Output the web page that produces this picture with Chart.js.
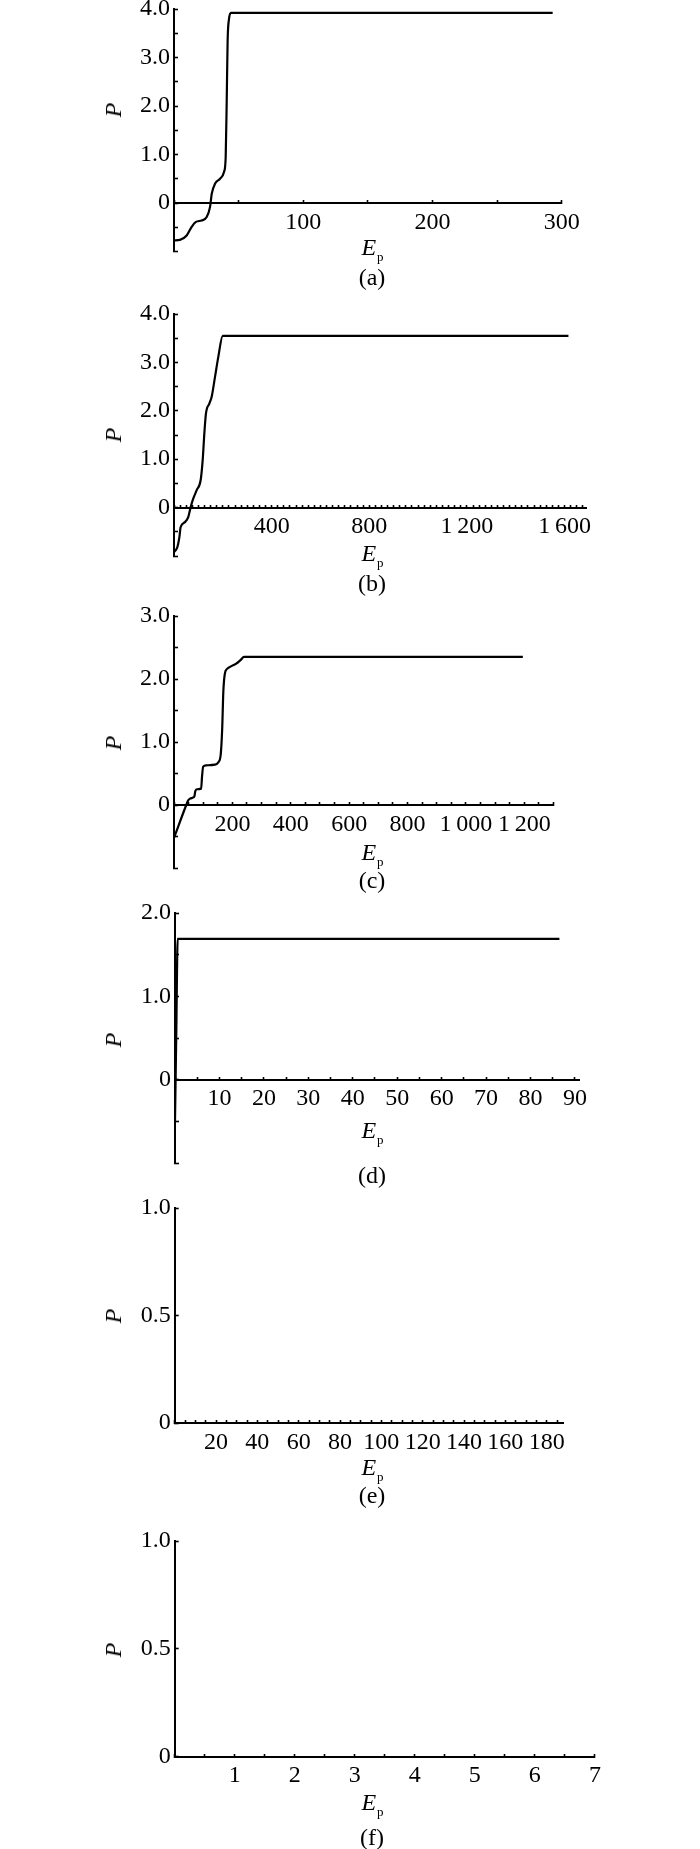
<!DOCTYPE html>
<html>
<head>
<meta charset="utf-8">
<script src="https://cdn.jsdelivr.net/npm/chart.js@4.4.1/dist/chart.umd.min.js"></script>
<style>
  body { margin: 0; background: #fff; }
  #page { position: relative; width: 700px; height: 1849px; overflow: hidden; background: #fff;
          font-family: "Liberation Serif", "DejaVu Serif", serif; color: #000; }
  #page canvas { position: absolute; left: 0; }
  .txt { position: absolute; font-size: 24px; line-height: 1; white-space: nowrap; transform: translate(-50%, -50%); }
  .ylab { font-style: italic; transform: translate(-50%, -50%) rotate(-90deg); }
  .ep i { font-style: italic; }
  .ep .sub { font-size: 13px; position: relative; top: 6px; left: 1px; }
</style>
</head>
<body>
<div id="page"></div>
<script>
// values (E_p on x, P on y)
const epA = [0, 4.6, 9.8, 13.7, 17, 21.4, 25.3, 27.9, 29.2, 31.8, 35.6, 38.7, 40, 40.8, 41.5, 42.6, 44.1, 293];
const pA  = [-0.77, -0.76, -0.67, -0.49, -0.39, -0.36, -0.29, -0.08, 0.19, 0.4, 0.5, 0.64, 0.95, 2.12, 3.35, 3.8, 3.92, 3.92];

const epB = [0, 13.6, 21.8, 27.3, 45, 58.7, 68.3, 79.2, 92.9, 109.3, 117.5, 124.3, 131.1, 144.8, 154.4, 168, 181.7, 199.5, 1616];
const pB  = [-0.92, -0.82, -0.62, -0.4, -0.3, -0.19, 0.01, 0.19, 0.36, 0.57, 0.98, 1.53, 1.95, 2.15, 2.29, 2.7, 3.12, 3.55, 3.55];

const epC = [0, 42, 48, 55, 66, 70, 73, 78, 93, 96, 100, 110, 140, 152, 160, 165, 169, 174, 182, 195, 212, 228, 240, 1195];
const pC  = [-0.52, 0, 0.07, 0.1, 0.12, 0.14, 0.22, 0.25, 0.26, 0.45, 0.61, 0.63, 0.64, 0.68, 0.8, 1.2, 1.8, 2.08, 2.16, 2.2, 2.24, 2.3, 2.35, 2.35];

const epD = [0, 0.3, 0.6, 86.5];
const pD  = [-0.5, 0.6, 1.69, 1.69];

// tick labels shown on each axis
const xLabelsA = [100, 200, 300];
const xLabelsB = [400, 800, 1200, 1600];
const xLabelsC = [200, 400, 600, 800, 1000, 1200];
const xLabelsD = [10, 20, 30, 40, 50, 60, 70, 80, 90];
const xLabelsE = [20, 40, 60, 80, 100, 120, 140, 160, 180];
const xLabelsF = [1, 2, 3, 4, 5, 6, 7];
const yLabelsA = [0, 1, 2, 3, 4];
const yLabelsB = [0, 1, 2, 3, 4];
const yLabelsC = [0, 1, 2, 3];
const yLabelsD = [0, 1, 2];
const yLabelsE = [0, 0.5, 1];
const yLabelsF = [0, 0.5, 1];
const captions = ["(a)", "(b)", "(c)", "(d)", "(e)", "(f)"];

// layout: plot box in page pixels and text positions
const panels = [
  { ep: epA, p: pA, xMax: 300, xStep: 50, xLabels: xLabelsA, yMin: -1, yMax: 4, yLabels: yLabelsA,
    box: { left: 174, right: 561.7, top: 8.7, bottom: 251.2 }, pY: 110, epY: 246.7, capY: 277 },
  { ep: epB, p: pB, xMax: 1690, xStep: 25, xLabels: xLabelsB, yMin: -1, yMax: 4, yLabels: yLabelsB,
    box: { left: 174, right: 586.5, top: 314, bottom: 556 }, pY: 435, epY: 553.3, capY: 583.3 },
  { ep: epC, p: pC, xMax: 1300, xStep: 50, xLabels: xLabelsC, yMin: -1, yMax: 3, yLabels: yLabelsC,
    box: { left: 174, right: 553.5, top: 616, bottom: 868 }, pY: 743, epY: 851.7, capY: 880 },
  { ep: epD, p: pD, xMax: 91, xStep: 5, xLabels: xLabelsD, yMin: -1, yMax: 2, yLabels: yLabelsD,
    box: { left: 175, right: 579.4, top: 913.3, bottom: 1163.3 }, pY: 1040, epY: 1130, capY: 1175 },
  { ep: [], p: [], xMax: 188, xStep: 5, xLabels: xLabelsE, yMin: 0, yMax: 1, yLabels: yLabelsE,
    box: { left: 174.7, right: 563.2, top: 1207.7, bottom: 1422.7 }, pY: 1316, epY: 1466.7, capY: 1495 },
  { ep: [], p: [], xMax: 7, xStep: 0.5, xLabels: xLabelsF, yMin: 0, yMax: 1, yLabels: yLabelsF,
    box: { left: 174.7, right: 594.9, top: 1541, bottom: 1756.7 }, pY: 1650, epY: 1801.7, capY: 1836.7 }
];

const fmtX = v => v >= 1000 ? Math.floor(v / 1000) + "\u2009" + String(v % 1000).padStart(3, "0") : String(v);
const fmtY = v => v === 0 ? "0" : v.toFixed(1);
const near = (arr, v) => arr.some(a => Math.abs(a - v) < 1e-6);

Chart.defaults.font.family = '"Liberation Serif", serif';
Chart.defaults.color = "#000";

const page = document.getElementById("page");

function addText(html, cls, x, y) {
  const d = document.createElement("div");
  d.className = "txt " + cls;
  d.style.left = x + "px";
  d.style.top = y + "px";
  d.innerHTML = html;
  page.appendChild(d);
}

panels.forEach((pn, i) => {
  const b = pn.box;
  const top = b.top - 24;
  const height = Math.round(b.bottom - b.top + 64);
  const cv = document.createElement("canvas");
  cv.width = 700;
  cv.height = height;
  cv.style.top = top + "px";
  page.appendChild(cv);

  const points = pn.ep.map((x, k) => ({ x: x, y: pn.p[k] }));

  new Chart(cv, {
    type: "line",
    data: {
      datasets: [{
        data: points,
        borderColor: "#000",
        borderWidth: 2.2,
        pointRadius: 0,
        fill: false,
        cubicInterpolationMode: "monotone"
      }]
    },
    options: {
      responsive: false,
      animation: false,
      devicePixelRatio: 1,
      layout: {
        padding: { left: 0, top: b.top - top, right: 700 - b.right, bottom: height - (b.bottom - top) }
      },
      plugins: { legend: { display: false }, tooltip: { enabled: false } },
      scales: {
        x: {
          type: "linear",
          position: { y: 0 },
          min: 0,
          max: pn.xMax,
          afterFit: s => { s.height = 0; },
          border: { display: true, color: "#000", width: 2 },
          grid: { drawOnChartArea: false, drawTicks: true, tickLength: -4, tickWidth: 1.6, tickColor: "#000" },
          ticks: {
            stepSize: pn.xStep,
            includeBounds: false,
            autoSkip: false,
            maxRotation: 0,
            minRotation: 0,
            padding: 9,
            font: { size: 24 },
            callback: v => (v > 0 && near(pn.xLabels, v)) ? fmtX(v) : ""
          }
        },
        y: {
          type: "linear",
          position: "left",
          min: pn.yMin,
          max: pn.yMax,
          afterFit: s => { s.width = b.left; },
          border: { display: true, color: "#000", width: 2 },
          grid: { drawOnChartArea: false, drawTicks: true, tickLength: -4, tickWidth: 1.6, tickColor: "#000" },
          ticks: {
            stepSize: 0.5,
            autoSkip: false,
            padding: 8,
            font: { size: 24 },
            callback: v => near(pn.yLabels, v) ? fmtY(v) : ""
          }
        }
      }
    }
  });

  addText("P", "ylab", 113, pn.pY);
  addText('<i>E</i><span class="sub">p</span>', "ep", 372, pn.epY);
  addText(captions[i], "cap", 372, pn.capY);
});
</script>
</body>
</html>
